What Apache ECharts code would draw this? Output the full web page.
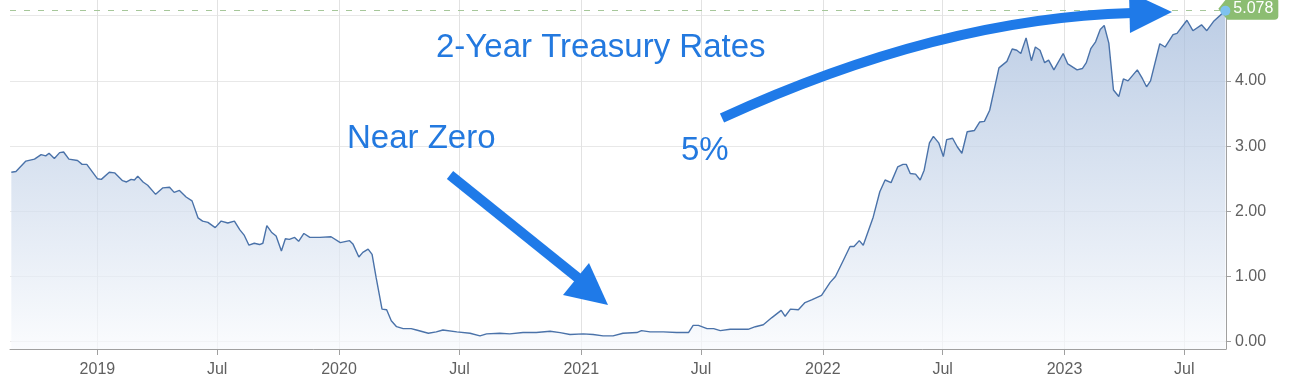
<!DOCTYPE html>
<html>
<head>
<meta charset="utf-8">
<script src="https://cdn.jsdelivr.net/npm/echarts@6/dist/echarts.min.js"></script>
<style>
html,body{margin:0;padding:0;background:#fff;}
#chart{width:1291px;height:391px;}
</style>
</head>
<body>
<div id="chart"></div>
<script>
// ---- data ----
const dates2018 = ['2018-08-24','2018-08-31','2018-09-15','2018-09-28','2018-10-08','2018-10-15','2018-10-20','2018-10-28','2018-11-05','2018-11-11','2018-11-19','2018-12-02','2018-12-09','2018-12-16'];
const rates2018 = [2.60,2.61,2.77,2.80,2.87,2.85,2.89,2.81,2.90,2.91,2.80,2.78,2.72,2.72];

const dates2019 = ['2019-01-01','2019-01-07','2019-01-19','2019-01-27','2019-02-08','2019-02-14','2019-02-21','2019-02-26','2019-03-03','2019-03-11','2019-03-18','2019-03-30','2019-04-10','2019-04-20','2019-04-27','2019-05-05','2019-05-15','2019-05-24','2019-06-02','2019-06-09','2019-06-17','2019-06-28','2019-07-07','2019-07-17','2019-07-27','2019-08-04','2019-08-11','2019-08-18','2019-08-26','2019-09-03','2019-09-08','2019-09-14','2019-09-21','2019-09-28','2019-10-06','2019-10-12','2019-10-18','2019-10-26','2019-11-01','2019-11-09','2019-11-18','2019-12-03','2019-12-20'];
const rates2019 = [2.50,2.49,2.60,2.59,2.47,2.45,2.49,2.48,2.54,2.45,2.40,2.26,2.36,2.37,2.29,2.32,2.22,2.16,1.90,1.85,1.83,1.75,1.85,1.82,1.85,1.72,1.63,1.48,1.51,1.49,1.51,1.78,1.68,1.62,1.39,1.58,1.57,1.60,1.54,1.66,1.60,1.60,1.61];

const dates2020 = ['2020-01-03','2020-01-17','2020-01-22','2020-01-31','2020-02-06','2020-02-14','2020-02-20','2020-02-26','2020-03-06','2020-03-13','2020-03-20','2020-03-28','2020-04-07','2020-04-19','2020-04-27','2020-05-15','2020-05-27','2020-06-06','2020-06-27','2020-07-17','2020-08-01','2020-08-11','2020-08-31','2020-09-15','2020-10-05','2020-10-25','2020-11-15','2020-11-30','2020-12-15'];
const rates2020 = [1.52,1.55,1.50,1.30,1.37,1.42,1.34,0.99,0.50,0.49,0.32,0.23,0.20,0.20,0.18,0.13,0.15,0.18,0.15,0.13,0.09,0.12,0.13,0.12,0.14,0.14,0.16,0.14,0.11];

const dates2021 = ['2021-01-04','2021-01-19','2021-02-03','2021-02-18','2021-03-05','2021-03-26','2021-04-02','2021-04-15','2021-05-05','2021-05-25','2021-06-12','2021-06-19','2021-06-27','2021-07-10','2021-07-20','2021-07-30','2021-08-14','2021-08-29','2021-09-10','2021-09-21','2021-10-03','2021-10-16','2021-10-30','2021-11-05','2021-11-13','2021-11-25','2021-12-05','2021-12-15','2021-12-30'];
const rates2021 = [0.12,0.11,0.09,0.09,0.13,0.14,0.17,0.15,0.15,0.14,0.14,0.25,0.25,0.20,0.20,0.17,0.19,0.19,0.19,0.23,0.26,0.37,0.48,0.39,0.50,0.49,0.60,0.64,0.71];

const dates2022 = ['2022-01-12','2022-01-20','2022-02-01','2022-02-11','2022-02-17','2022-02-25','2022-03-03','2022-03-18','2022-03-28','2022-04-05','2022-04-14','2022-04-24','2022-05-02','2022-05-07','2022-05-13','2022-05-21','2022-05-28','2022-06-03','2022-06-11','2022-06-17','2022-06-25','2022-07-02','2022-07-07','2022-07-16','2022-07-23','2022-07-30','2022-08-07','2022-08-18','2022-08-26','2022-09-02','2022-09-10','2022-09-24','2022-10-06','2022-10-14','2022-10-21','2022-10-27','2022-11-04','2022-11-12','2022-11-18','2022-11-25','2022-12-02','2022-12-08','2022-12-16','2022-12-30'];
const rates2022 = [0.91,1.00,1.25,1.46,1.46,1.55,1.48,1.91,2.30,2.48,2.44,2.68,2.72,2.72,2.58,2.57,2.48,2.63,3.05,3.15,3.05,2.84,3.10,3.12,2.99,2.89,3.22,3.24,3.37,3.38,3.55,4.20,4.30,4.49,4.47,4.42,4.66,4.31,4.52,4.47,4.28,4.32,4.17,4.42];

const dates2023 = ['2023-01-06','2023-01-20','2023-01-28','2023-02-03','2023-02-10','2023-02-17','2023-02-24','2023-03-02','2023-03-09','2023-03-16','2023-03-24','2023-03-31','2023-04-07','2023-04-21','2023-04-29','2023-05-05','2023-05-11','2023-05-25','2023-06-02','2023-06-14','2023-06-20','2023-07-05','2023-07-14','2023-07-27','2023-08-04','2023-08-14','2023-09-01'];
const rates2023 = [4.26,4.17,4.19,4.28,4.50,4.60,4.79,4.85,4.58,3.86,3.76,4.03,4.00,4.17,4.03,3.91,4.00,4.57,4.52,4.71,4.73,4.93,4.77,4.86,4.77,4.91,5.078];

const xTickDates  = ['2019-01-01','2019-07-01','2020-01-01','2020-07-01','2021-01-01','2021-07-01','2022-01-01','2022-07-01','2023-01-01','2023-07-01'];
const xTickLabels = ['2019','Jul','2020','Jul','2021','Jul','2022','Jul','2023','Jul'];
const yTickValues  = [0,1,2,3,4,5];
const yLabelValues = [0,1,2,3,4];
const xRange = ['2018-08-22','2023-09-02'];
const yRange = [-0.112, 5.241];

const annotTitle = '2-Year Treasury Rates';
const annotNear  = 'Near Zero';
const annotFive  = '5%';

// ---- build ----
const ts = d => echarts.time.parse(d).getTime();
const allDates = [].concat(dates2018,dates2019,dates2020,dates2021,dates2022,dates2023);
const allRates = [].concat(rates2018,rates2019,rates2020,rates2021,rates2022,rates2023);
const seriesData = allDates.map((d,i)=>[ts(d), allRates[i]]);
const lastTs = ts(allDates[allDates.length-1]);
const lastRate = allRates[allRates.length-1];
const xTickTs = xTickDates.map(ts);

const FONT = '"Liberation Sans", Arial, Helvetica, sans-serif';
const BLUE = '#1f7ae8';
const TXT = '#2379df';

const chart = echarts.init(document.getElementById('chart'), null, {renderer:'canvas'});
chart.setOption({
  animation:false,
  backgroundColor:'#ffffff',
  grid:{left:10,right:65,top:0,bottom:42,containLabel:false},
  xAxis:{
    type:'value',
    min:ts(xRange[0]), max:ts(xRange[1]),
    axisLine:{show:true,onZero:false,lineStyle:{color:'#a0a0a0',width:1}},
    axisTick:{show:true,length:6,lineStyle:{color:'#a0a0a0'},customValues:xTickTs},
    axisLabel:{
      customValues:xTickTs,
      color:'#606060',fontSize:16,fontFamily:FONT,margin:13,
      formatter:(v)=>{
        const i = xTickTs.indexOf(v);
        return i>=0 ? xTickLabels[i] : '';
      }
    },
    splitLine:{show:true,lineStyle:{color:'#e2e2e2',width:1}}
  },
  yAxis:{
    type:'value',position:'right',
    min:yRange[0],max:yRange[1],
    axisLine:{show:true,onZero:false,lineStyle:{color:'#a0a0a0',width:1}},
    axisTick:{show:true,length:5,lineStyle:{color:'#a0a0a0'},customValues:yTickValues},
    axisLabel:{
      customValues:yLabelValues,
      color:'#606060',fontSize:16,fontFamily:FONT,margin:9,
      formatter:(v)=>Number(v).toFixed(2)
    },
    splitLine:{show:true,lineStyle:{color:'#e8e8e8',width:1}}
  },
  series:[{
    type:'line',
    data:seriesData,
    showSymbol:false,
    symbol:'none',
    lineStyle:{color:'#4a72a9',width:1.4},
    areaStyle:{
      origin:'start',
      color:new echarts.graphic.LinearGradient(0,0,0,1,[
        {offset:0,color:'#a0b8da'},
        {offset:1,color:'#f8fafd'}
      ])
    },
    markLine:{
      silent:true,
      symbol:['none','none'],
      label:{show:false},
      lineStyle:{type:[6,8],color:'#a6c79a',width:1},
      data:[{yAxis:lastRate}]
    },
    markPoint:{
      silent:true,
      data:[
        {
          coord:[lastTs,lastRate],
          symbol:'path://M0,11 L9,0 L56,0 Q60,0 60,4 L60,18 Q60,22 56,22 L9,22 Z',
          symbolSize:[60,22],
          symbolKeepAspect:false,
          symbolOffset:[23,-2],
          itemStyle:{color:'#8cbd72'},
          label:{show:true,position:'inside',offset:[5,0],color:'#ffffff',fontSize:16,fontFamily:FONT,formatter:String(lastRate)}
        },
        {
          coord:[lastTs,lastRate],
          symbol:'circle',
          symbolSize:10,
          itemStyle:{color:'#7ec2ee'},
          label:{show:false}
        }
      ]
    }
  }],
  graphic:[
    {type:'text',z:100,style:{text:annotTitle,x:436,y:48,font:'33px '+FONT,fill:TXT,verticalAlign:'middle'}},
    {type:'text',z:100,style:{text:annotNear,x:347,y:139,font:'33px '+FONT,fill:TXT,verticalAlign:'middle'}},
    {type:'text',z:100,style:{text:annotFive,x:681,y:151,font:'33px '+FONT,fill:TXT,verticalAlign:'middle'}},
    {type:'line',z:100,shape:{x1:450,y1:175,x2:583,y2:282},style:{stroke:BLUE,lineWidth:10}},
    {type:'polygon',z:100,shape:{points:[[563,295],[589,263],[608,305]]},style:{fill:BLUE}},
    {type:'bezierCurve',z:100,shape:{x1:722,y1:118,x2:1132,y2:13,cpx1:940,cpy1:18},style:{stroke:BLUE,lineWidth:10,fill:null}},
    {type:'polygon',z:100,shape:{points:[[1129,-8],[1130,33],[1172,12]]},style:{fill:BLUE}}
  ]
});
</script>
</body>
</html>
